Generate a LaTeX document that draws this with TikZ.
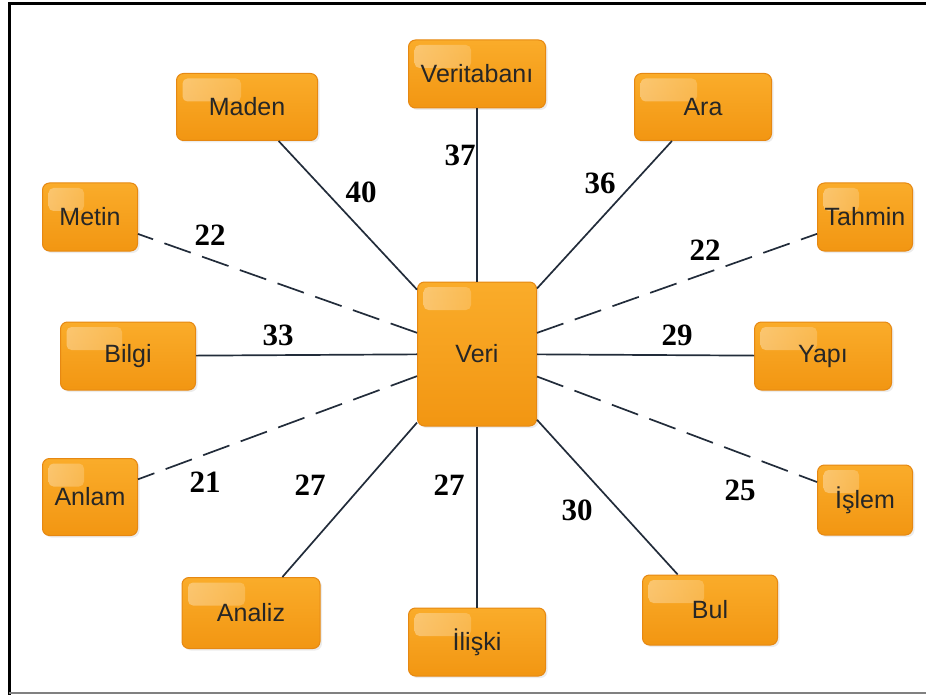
\documentclass[tikz,border=0pt]{standalone}
\usepackage{fontspec}
\setmainfont{Liberation Sans}
\newfontfamily\numfont{Liberation Serif}
\usetikzlibrary{calc,shadows}

\definecolor{boxtop}{RGB}{250,172,42}
\definecolor{boxbot}{RGB}{242,150,18}
\definecolor{boxedge}{RGB}{230,136,18}
\definecolor{linkcol}{RGB}{34,44,58}

\begin{document}
\begin{tikzpicture}[%
      x=1pt, y=-1pt,
      box/.style={draw=boxedge, top color=boxtop, bottom color=boxbot,
        rounded corners=7pt, line width=1pt, inner sep=0pt,
        minimum width=137pt, minimum height=68pt,
        drop shadow={opacity=0.15, shadow xshift=2pt, shadow yshift=-2pt},
        font=\fontsize{25}{25}\selectfont, text=black!85,
        path picture={
          \shade[left color=white, right color=boxtop, opacity=0.35,
                 rounded corners=5pt]
            ([shift={(6pt,-5pt)}]path picture bounding box.north west)
            rectangle ([shift={(-6pt,-28pt)}]path picture bounding box.north);
        }},
      smallbox/.style={box, minimum width=95pt},
      link/.style={draw=linkcol, line width=1.7pt},
      dlink/.style={link, dash pattern=on 28pt off 12pt},
      num/.style={font=\numfont\bfseries\fontsize{31}{31}\selectfont},
      ]
      \useasboundingbox (0,0) rectangle (926,695);

      % frame
      \draw[line width=3pt] (9,695) -- (9,4) -- (926,4);
      \draw[gray, line width=2pt] (9,693) -- (926,693);

      % centre and the twelve words round it
      \node[box, minimum width=119pt, minimum height=144pt] (veri) at (477,354) {Veri};
      \node[box] (veritabani) at (477,74) {Veritabanı};
      \node[box, minimum width=141pt, minimum height=67pt] (maden) at (247,107) {Maden};
      \node[box, minimum height=67pt] (ara) at (703,107) {Ara};
      \node[smallbox] (metin) at (90,217) {Metin};
      \node[smallbox] (tahmin) at (865,217) {Tahmin};
      \node[box, minimum width=135pt] (bilgi) at (128,356) {Bilgi};
      \node[box] (yapi) at (823,356) {Yapı};
      \node[smallbox, minimum height=77pt] (anlam) at (90,497) {Anlam};
      \node[smallbox, minimum height=70pt] (islem) at (865,500) {İşlem};
      \node[box, minimum width=138pt, minimum height=71pt] (analiz) at (251,613) {Analiz};
      \node[box] (iliski) at (477,642) {İlişki};
      \node[box, minimum width=135pt, minimum height=70pt] (bul) at (710,610) {Bul};

      % links
      \draw[link] (veri) -- (veritabani);
      \draw[link] (veri) -- (maden);
      \draw[link] (veri) -- (ara);
      \draw[dlink] (veri) -- (metin);
      \draw[dlink] (veri) -- (tahmin);
      \draw[link] (veri) -- (bilgi);
      \draw[link] (veri) -- (yapi);
      \draw[dlink] (veri) -- (anlam);
      \draw[dlink] (veri) -- (islem);
      \draw[link] (veri) -- (analiz);
      \draw[link] (veri) -- (iliski);
      \draw[link] (veri) -- (bul);

      % counts
      \node[num] (n-veritabani) at (460,155) {37};
      \node[num] (n-maden) at (361,192) {40};
      \node[num] (n-ara) at (600,183) {36};
      \node[num] (n-metin) at (210,235) {22};
      \node[num] (n-tahmin) at (705,250) {22};
      \node[num] (n-bilgi) at (278,335) {33};
      \node[num] (n-yapi) at (677,335) {29};
      \node[num] (n-anlam) at (205,482) {21};
      \node[num] (n-islem) at (740,490) {25};
      \node[num] (n-analiz) at (310,485) {27};
      \node[num] (n-iliski) at (449,485) {27};
      \node[num] (n-bul) at (577,510) {30};
\end{tikzpicture}
\end{document}
